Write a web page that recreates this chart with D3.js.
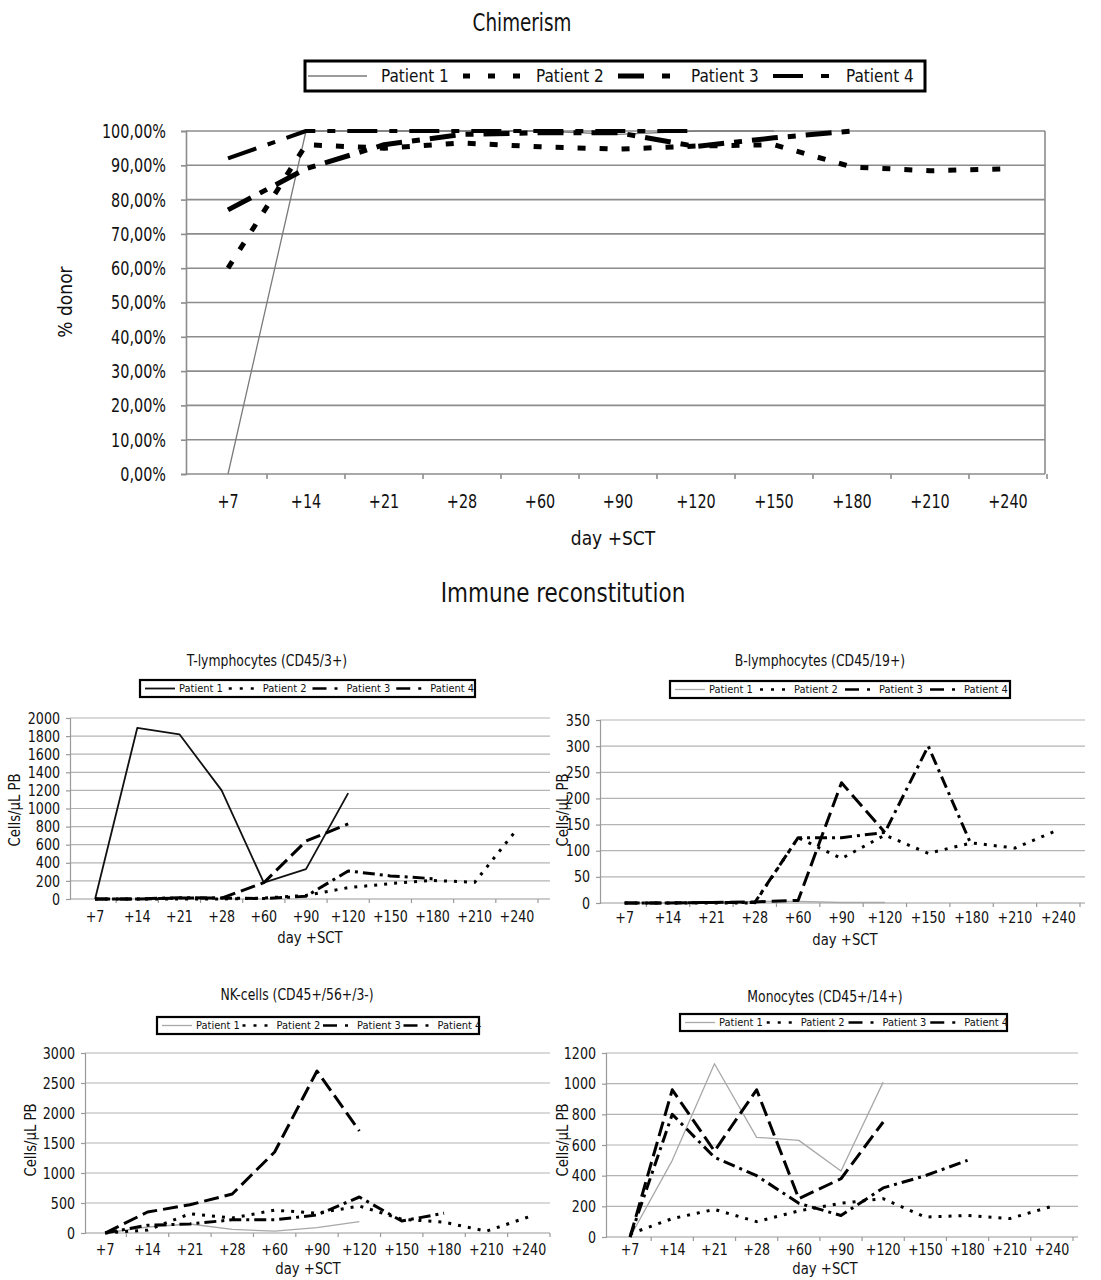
<!DOCTYPE html>
<html><head><meta charset="utf-8">
<script src="https://cdn.jsdelivr.net/npm/d3@7"></script>
<style>
body{margin:0;background:#fff;}
svg text{font-family:"DejaVu Sans Condensed","DejaVu Sans",sans-serif !important;font-stretch:condensed;fill:#111;}
</style></head><body>
<svg id="c" width="1101" height="1280"></svg>
<script>
// ---------- DATA ----------
const categories = ["+7","+14","+21","+28","+60","+90","+120","+150","+180","+210","+240"];
const patients = ["Patient 1","Patient 2","Patient 3","Patient 4"];

// Chimerism (% donor)
const chimTicks = [0,10,20,30,40,50,60,70,80,90,100];
const chimP1 = [0,100,100,100,100,99,100,100,null,null,null];
const chimP2 = [60,96,95,96.5,95.4,94.7,95.6,96,89.5,88.4,89];
const chimP3 = [77,89,96,99,99.5,99.5,95.5,98,100,null,null];
const chimP4 = [92,100,100,100,100,100,100,null,null,null,null];

// T-lymphocytes
const tTicks = [0,200,400,600,800,1000,1200,1400,1600,1800,2000];
const tP1 = [0,1890,1820,1200,180,330,1170,null,null,null,null];
const tP2 = [0,0,0,0,10,40,125,170,205,185,770];
const tP3 = [0,0,10,10,180,640,830,null,null,null,null];
const tP4 = [0,0,15,10,5,30,310,255,225,null,null];

// B-lymphocytes
const bTicks = [0,50,100,150,200,250,300,350];
const bP1 = [0,0,0,3,3,1,1,null,null,null,null];
const bP2 = [0,0,0,0,125,85,130,95,115,105,140];
const bP3 = [0,0,1,2,5,230,135,null,null,null,null];
const bP4 = [0,0,1,1,125,125,135,300,110,null,null];

// NK-cells
const nkTicks = [0,500,1000,1500,2000,2500,3000];
const nkP1 = [0,100,150,60,30,90,190,null,null,null,null];
const nkP2 = [0,50,320,250,380,330,450,230,180,30,270];
const nkP3 = [0,350,470,650,1350,2700,1700,null,null,null,null];
const nkP4 = [0,130,150,220,220,300,600,200,330,null,null];

// Monocytes
const moTicks = [0,200,400,600,800,1000,1200];
const moP1 = [0,500,1130,650,630,430,1010,null,null,null,null];
const moP2 = [20,120,180,100,170,220,250,130,140,120,200];
const moP3 = [0,960,560,960,250,380,750,null,null,null,null];
const moP4 = [0,800,520,400,220,140,320,400,500,null,null];

// ---------- DRAWING ----------
const svg = d3.select("#c");

// horizontally compress text (reference uses a very condensed face)
function squeeze(sel,k){
  sel.each(function(){
    const t = d3.select(this);
    const x = +t.attr("x")||0, y = +t.attr("y")||0;
    const prev = t.attr("transform")||"";
    t.attr("x",0).attr("y",0).attr("transform",`${prev} translate(${x},${y}) scale(${k},1)`);
  });
}

const bigStyles = [
  {stroke:"#7a7a7a", w:1.3, dash:null},
  {stroke:"#000", w:5, dash:"8,14"},
  {stroke:"#000", w:5, dash:"26,10,8,10"},
  {stroke:"#000", w:4, dash:"30,12,8,12"}
];
const smallStyles = p1col => [
  {stroke:p1col.c, w:p1col.w, dash:null},
  {stroke:"#000", w:3, dash:"3,7"},
  {stroke:"#000", w:3, dash:"15,6"},
  {stroke:"#000", w:3, dash:"12,5,3,5"}
];

function legend(o){
  const g = svg.append("g");
  g.append("rect").attr("x",o.x).attr("y",o.y).attr("width",o.w).attr("height",o.h)
    .attr("fill","#fff").attr("stroke","#000").attr("stroke-width",o.bw);
  const step = o.w/4;
  patients.forEach((p,i)=>{
    const sx = o.x + i*step;
    const st = o.styles[i];
    g.append("line").attr("x1",sx+o.s0).attr("x2",sx+o.s1)
      .attr("y1",o.y+o.h/2).attr("y2",o.y+o.h/2)
      .attr("stroke",st.stroke).attr("stroke-width",Math.min(st.w,o.maxW))
      .attr("stroke-dasharray",st.dash?o.legDash[i]:null);
    g.append("text").attr("x",sx+o.tx).attr("y",o.y+o.h/2).attr("dy","0.36em")
      .attr("font-size",o.fs).text(p);
  });
}

function panel(o){
  const g = svg.append("g");
  const x = d3.scaleBand().domain(categories).range([o.bandL,o.bandR]);
  const cx = c => x(c)+x.bandwidth()/2;
  const y = d3.scaleLinear().domain([0,o.yMax]).range([o.yBot,o.yTop]);
  // gridlines
  g.selectAll("line.grid").data(o.yTicks.filter(d=>d>0)).join("line")
    .attr("x1",o.axisX).attr("x2",o.gridR).attr("y1",d=>y(d)).attr("y2",d=>y(d))
    .attr("stroke",o.gridC).attr("stroke-width",o.gridW);
  if(o.rightBorder){
    g.append("line").attr("x1",o.gridR).attr("x2",o.gridR).attr("y1",o.yTop).attr("y2",o.yBot)
      .attr("stroke",o.gridC).attr("stroke-width",o.gridW);
  }
  // y axis
  const ya = g.append("g").attr("transform",`translate(${o.axisX},0)`)
    .call(d3.axisLeft(y).tickValues(o.yTicks).tickFormat(o.fmt).tickSize(o.tickLen).tickPadding(o.tickPad));
  ya.select(".domain").attr("stroke",o.axisC).attr("stroke-width",o.gridW);
  ya.selectAll(".tick line").attr("stroke",o.axisC).attr("stroke-width",o.gridW);
  ya.selectAll(".tick text").attr("font-size",o.fs).attr("fill","#111");
  squeeze(ya.selectAll(".tick text"),o.k);
  // x axis
  const xa = g.append("g").attr("transform",`translate(0,${o.yBot})`)
    .call(d3.axisBottom(x).tickSize(0).tickPadding(o.xPad));
  xa.select(".domain").remove();
  g.append("line").attr("x1",o.axisX).attr("x2",o.gridR).attr("y1",o.yBot).attr("y2",o.yBot)
    .attr("stroke",o.axisC).attr("stroke-width",o.gridW);
  const edges = categories.map(c=>x(c)).concat([x(categories[categories.length-1])+x.bandwidth()]);
  g.selectAll("line.xt").data(edges.slice(1)).join("line")
    .attr("x1",d=>d).attr("x2",d=>d).attr("y1",o.yBot).attr("y2",o.yBot+o.tickLen)
    .attr("stroke",o.axisC).attr("stroke-width",o.gridW);
  xa.selectAll(".tick text").attr("font-size",o.fs).attr("fill","#111");
  squeeze(xa.selectAll(".tick text"),o.k);
  // series
  o.series.forEach((s,i)=>{
    const st = o.styles[i];
    const line = d3.line().defined(d=>d.v!==null).x(d=>cx(d.c)).y(d=>y(d.v));
    const data = categories.map((c,j)=>({c:c,v:s[j]}));
    g.append("path").datum(data).attr("d",line).attr("fill","none")
      .attr("stroke",st.stroke).attr("stroke-width",st.w)
      .attr("stroke-dasharray",st.dash).attr("stroke-linejoin","round");
  });
  // titles
  const xt = g.append("text").attr("x",o.xtX).attr("y",o.xtY).attr("text-anchor","middle")
    .attr("font-size",o.ttFs).text("day +SCT");
  squeeze(xt,o.kt);
  const yt = g.append("text").attr("transform",`translate(${o.ytX},${o.ytY}) rotate(-90)`)
    .attr("text-anchor","middle").attr("font-size",o.ttFs).text(o.yTitle);
  squeeze(yt,o.kt);
  if(o.title){
    const tt = g.append("text").attr("x",o.title.x).attr("y",o.title.y).attr("text-anchor","middle")
      .attr("dy","0.36em").attr("font-size",o.title.fs).text(o.title.t);
    squeeze(tt,o.kt);
  }
}

// ---- Chimerism ----
squeeze(svg.append("text").attr("x",522).attr("y",22).attr("dy","0.36em").attr("text-anchor","middle")
  .attr("font-size",24).text("Chimerism"),0.85);
legend({x:305,y:61,w:620,h:30,bw:3,styles:bigStyles,s0:3,s1:62,tx:76,fs:17,maxW:5,
  legDash:[null,"7,18","26,18,8,18","30,18,8,18"]});
panel({
  bandL:189,bandR:1047,axisX:186,gridR:1045,yTop:131,yBot:474,yMax:100,yTicks:chimTicks,
  fmt:d=>d3.format(".2f")(d).replace(".",",")+"%",
  tickLen:5,tickPad:15,xPad:20,fs:20,k:0.8,kt:0.95,gridC:"#8c8c8c",axisC:"#8c8c8c",gridW:1.6,rightBorder:true,
  series:[chimP1,chimP2,chimP3,chimP4],styles:bigStyles,
  xtX:613,xtY:545,ytX:72,ytY:302,ttFs:20,yTitle:"% donor"
});

squeeze(svg.append("text").attr("x",563).attr("y",593).attr("dy","0.36em").attr("text-anchor","middle")
  .attr("font-size",26).text("Immune reconstitution"),0.92);

const smallLeg = {h:17,bw:2.2,s0:5,s1:35,tx:39,fs:11,maxW:2.5,legDash:[null,"3,8","14,8,3,8","14,8,3,8"]};
const smallCommon = {tickLen:4,tickPad:6,fs:16,k:0.88,kt:0.92,gridC:"#b4b4b4",axisC:"#9a9a9a",gridW:1.2,ttFs:16,yTitle:"Cells/\u00b5L PB"};

// T-lymphocytes
const tStyles = smallStyles({c:"#111",w:1.8});
legend(Object.assign({x:140,y:680,w:335,styles:tStyles},smallLeg));
panel(Object.assign({},smallCommon,{
  bandL:74,bandR:538,axisX:70,gridR:550,yTop:718,yBot:899,yMax:2000,yTicks:tTicks,fmt:d3.format("d"),
  xPad:12,series:[tP1,tP2,tP3,tP4],styles:tStyles,xtX:310,xtY:943,ytX:20,ytY:810,
  title:{x:267,y:661,fs:15,t:"T-lymphocytes (CD45/3+)"}
}));

// B-lymphocytes
const bStyles = smallStyles({c:"#a8a8a8",w:1.3});
legend(Object.assign({x:670,y:681,w:340,styles:bStyles},smallLeg));
panel(Object.assign({},smallCommon,{
  bandL:603,bandR:1080,axisX:600,gridR:1085,yTop:720,yBot:903,yMax:350,yTicks:bTicks,fmt:d3.format("d"),
  xPad:9,series:[bP1,bP2,bP3,bP4],styles:bStyles,xtX:845,xtY:945,ytX:568,ytY:810,
  title:{x:820,y:661,fs:15,t:"B-lymphocytes (CD45/19+)"}
}));

// NK-cells
const nkStyles = smallStyles({c:"#a8a8a8",w:1.3});
legend(Object.assign({x:157,y:1017,w:322,styles:nkStyles},smallLeg));
panel(Object.assign({},smallCommon,{
  bandL:84,bandR:550,axisX:85,gridR:550,yTop:1053,yBot:1233,yMax:3000,yTicks:nkTicks,fmt:d3.format("d"),
  xPad:11,series:[nkP1,nkP2,nkP3,nkP4],styles:nkStyles,xtX:308,xtY:1274,ytX:36,ytY:1140,
  title:{x:297,y:995,fs:15,t:"NK-cells (CD45+/56+/3-)"}
}));

// Monocytes
const moStyles = smallStyles({c:"#a8a8a8",w:1.3});
legend(Object.assign({x:680,y:1014,w:327,styles:moStyles},smallLeg));
panel(Object.assign({},smallCommon,{
  bandL:609,bandR:1073,axisX:606,gridR:1078,yTop:1053,yBot:1237,yMax:1200,yTicks:moTicks,fmt:d3.format("d"),
  xPad:7,series:[moP1,moP2,moP3,moP4],styles:moStyles,xtX:825,xtY:1274,ytX:568,ytY:1140,
  title:{x:825,y:997,fs:15,t:"Monocytes (CD45+/14+)"}
}));
</script>
</body></html>
